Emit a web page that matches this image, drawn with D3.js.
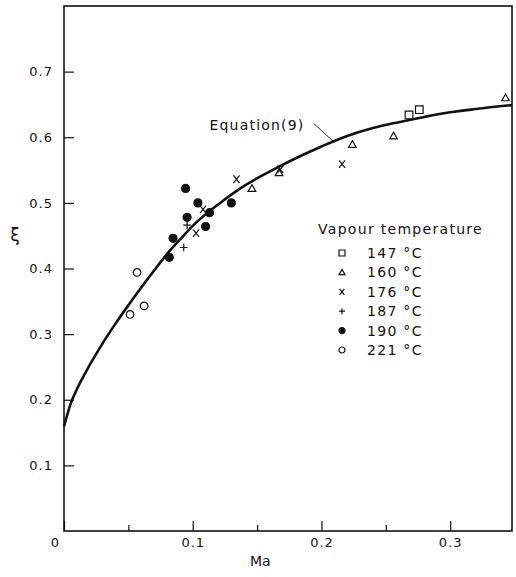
<!DOCTYPE html>
<meta charset="utf-8">
<script src="https://d3js.org/d3.v7.min.js"></script>
<style>
  body { margin: 0; background: #fff; }
  text { font-family: "DejaVu Sans", sans-serif; fill: #111; }
</style>
<div id="chart"></div>
<script>
  // Equation (9) curve
  var curveMa = [0, 0.005, 0.01, 0.02, 0.03, 0.04, 0.05, 0.06, 0.07, 0.08, 0.09, 0.10,
                 0.12, 0.14, 0.16, 0.18, 0.20, 0.22, 0.24, 0.26, 0.28, 0.30, 0.32, 0.348];
  var curveXi = [0.159, 0.193, 0.216, 0.253, 0.286, 0.316, 0.344, 0.371, 0.397, 0.422, 0.444, 0.465,
                 0.498, 0.526, 0.548, 0.568, 0.586, 0.602, 0.614, 0.623, 0.631, 0.638, 0.643, 0.649];

  // measured points, one pair of arrays per vapour temperature
  var ma147 = [0.268, 0.276],                xi147 = [0.634, 0.642];
  var ma160 = [0.146, 0.167, 0.224, 0.256, 0.343], xi160 = [0.522, 0.546, 0.589, 0.602, 0.660];
  var ma176 = [0.1026, 0.108, 0.134, 0.168, 0.216], xi176 = [0.454, 0.490, 0.536, 0.551, 0.559];
  var ma187 = [0.093, 0.0956],               xi187 = [0.432, 0.466];
  var ma190 = [0.0818, 0.0847, 0.0945, 0.0956, 0.104, 0.110, 0.113, 0.130];
  var xi190 = [0.417, 0.446, 0.522, 0.478, 0.500, 0.464, 0.485, 0.500];
  var ma221 = [0.0513, 0.0622, 0.0567],      xi221 = [0.330, 0.343, 0.394];

  var temps = ["147 °C", "160 °C", "176 °C", "187 °C", "190 °C", "221 °C"];
  var shapes = ["square", "triangle", "x", "plus", "dot", "circle"];

  var xTicks = [0, 0.1, 0.2, 0.3];
  var xMinor = [0.05, 0.15, 0.25];
  var yTicks = [0.1, 0.2, 0.3, 0.4, 0.5, 0.6, 0.7];

  var W = 516, H = 577;
  var plotL = 64, plotR = 512, plotT = 6, plotB = 531;

  var svg = d3.select("#chart").append("svg")
    .attr("width", W).attr("height", H);

  var x = d3.scaleLinear().domain([0, 0.348]).range([plotL, plotR]);
  var y = d3.scaleLinear().domain([0, 0.8]).range([plotB, plotT]);

  // symbol paths
  function shapePath(type, s) {
    if (type == "square") return "M" + (-s) + "," + (-s) + "h" + 2*s + "v" + 2*s + "h" + (-2*s) + "Z";
    if (type == "triangle") return "M0," + (-s) + "L" + s + "," + (s*0.75) + "L" + (-s) + "," + (s*0.75) + "Z";
    if (type == "x") return "M" + (-s*0.8) + "," + (-s) + "L" + (s*0.8) + "," + s + "M" + (-s*0.8) + "," + s + "L" + (s*0.8) + "," + (-s);
    if (type == "plus") return "M" + (-s) + ",0H" + s + "M0," + (-s) + "V" + s;
    return "M" + s + ",0A" + s + "," + s + " 0 1 1 " + (-s) + ",0A" + s + "," + s + " 0 1 1 " + s + ",0Z";
  }
  function styleShape(sel, type) {
    sel.attr("stroke", "#111")
      .attr("stroke-width", 1.2)
      .attr("fill", type == "dot" ? "#111" : (type == "x" || type == "plus") ? "none" : "#fff");
  }

  // x axis, ticks pointing in
  var gx = svg.append("g")
    .attr("transform", "translate(0," + plotB + ")")
    .call(d3.axisBottom(x).tickValues(xTicks).tickSize(-10).tickPadding(7)
      .tickFormat(function(d) { return d == 0 ? "0" : d3.format(".1f")(d); }));
  gx.select(".domain").remove();
  gx.selectAll("text").attr("font-size", 13).attr("letter-spacing", 1);
  gx.selectAll(".tick").filter(function(d) { return d == 0; })
    .select("text").attr("dx", -9);

  var gm = svg.append("g")
    .attr("transform", "translate(0," + plotB + ")")
    .call(d3.axisBottom(x).tickValues(xMinor).tickSize(-6).tickFormat(""));
  gm.select(".domain").remove();

  // y axis
  var gy = svg.append("g")
    .attr("transform", "translate(" + plotL + ",0)")
    .call(d3.axisLeft(y).tickValues(yTicks).tickSize(-10).tickPadding(11)
      .tickFormat(d3.format(".1f")));
  gy.select(".domain").remove();
  gy.selectAll("text").attr("font-size", 13).attr("letter-spacing", 1);
  svg.selectAll(".tick line").attr("stroke", "#111").attr("stroke-width", 1.2);

  // frame
  svg.append("rect")
    .attr("x", plotL).attr("y", plotT)
    .attr("width", plotR - plotL).attr("height", plotB - plotT)
    .attr("fill", "none").attr("stroke", "#111").attr("stroke-width", 1.6);

  // axis titles
  svg.append("text").attr("x", x(0.1525)).attr("y", 566)
    .attr("text-anchor", "middle").attr("font-size", 14).text("Ma");
  svg.append("text").attr("x", 15).attr("y", 241)
    .attr("text-anchor", "middle").attr("font-size", 17).text("ξ");

  // curve
  var curve = d3.range(curveMa.length).map(function(i) { return [curveMa[i], curveXi[i]]; });
  svg.append("path")
    .datum(curve)
    .attr("fill", "none")
    .attr("stroke", "#111")
    .attr("stroke-width", 2.6)
    .attr("d", d3.line()
      .x(function(d) { return x(d[0]); })
      .y(function(d) { return y(d[1]); })
      .curve(d3.curveMonotoneX));

  // curve label
  svg.append("text")
    .attr("x", x(0.113)).attr("y", y(0.619)).attr("dy", "0.35em")
    .attr("font-size", 14).attr("letter-spacing", 1.2)
    .text("Equation(9)");
  svg.append("line")
    .attr("x1", x(0.194)).attr("y1", y(0.621))
    .attr("x2", x(0.209)).attr("y2", y(0.594))
    .attr("stroke", "#111").attr("stroke-width", 0.9);

  // points
  var groups = [[ma147, xi147], [ma160, xi160], [ma176, xi176],
                [ma187, xi187], [ma190, xi190], [ma221, xi221]];
  groups.forEach(function(g, k) {
    var pts = g[0].map(function(m, i) { return [m, g[1][i]]; });
    svg.append("g").selectAll("path")
      .data(pts)
      .enter()
      .append("path")
        .attr("transform", function(d) { return "translate(" + x(d[0]) + "," + y(d[1]) + ")"; })
        .attr("d", shapePath(shapes[k], shapes[k] == "dot" ? 4 : 3.8))
        .call(styleShape, shapes[k]);
  });

  // legend
  var lg = svg.append("g").attr("transform", "translate(318,229)");
  lg.append("text").attr("dy", "0.35em")
    .attr("font-size", 14).attr("letter-spacing", 1.3)
    .text("Vapour temperature");
  temps.forEach(function(t, k) {
    var row = lg.append("g").attr("transform", "translate(0," + (24 + k * 19.4) + ")");
    row.append("path")
      .attr("transform", "translate(24,0)")
      .attr("d", shapePath(shapes[k], 3))
      .call(styleShape, shapes[k]);
    row.append("text").attr("x", 49).attr("dy", "0.35em")
      .attr("font-size", 14).attr("letter-spacing", 1.3)
      .text(t);
  });
</script>
